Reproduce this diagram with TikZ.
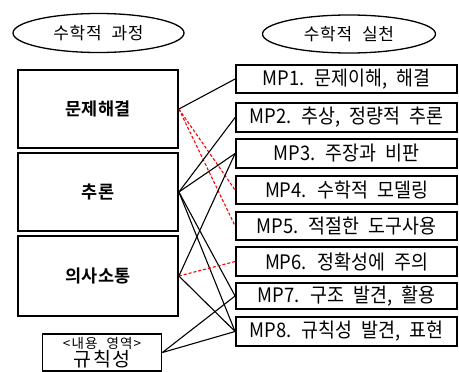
\documentclass[tikz,border=0pt]{standalone}
\usepackage{fontspec}
\setmainfont{Noto Sans CJK KR}
\newfontfamily\kr{Noto Sans CJK KR}[WordSpace=2.2]
\newfontfamily\krn{Noto Sans CJK KR}[WordSpace=2.2, FakeStretch=0.92]
\newfontfamily\krb{Noto Sans CJK KR Bold}
\usetikzlibrary{shapes.geometric}
\begin{document}
\begin{tikzpicture}[x=1pt,y=-1pt,
  lbox/.style={draw, line width=1.8pt, inner sep=0pt, font=\krb\fontsize{17.5}{19}\selectfont\addfontfeature{LetterSpace=3}},
  rbox/.style={draw, line width=1.8pt, inner sep=0pt, minimum width=221pt, font=\krn\fontsize{20}{20}\selectfont},
  oval/.style={draw, ellipse, line width=1.3pt, inner sep=0pt, font=\kr\fontsize{17}{18}\selectfont\addfontfeature{LetterSpace=4}},
  conn/.style={line width=1.1pt},
  rconn/.style={line width=1.1pt, red, dash pattern=on 3pt off 2pt}]
\useasboundingbox (0,0) rectangle (459,372);
% ellipses
\node[oval, minimum width=171pt, minimum height=39pt] (e1) at (98.5,33) {수학적 과정};
\node[oval, minimum width=173pt, minimum height=38pt] (e2) at (349,34) {수학적 실천};
% left boxes
\node[lbox, minimum width=160pt, minimum height=78pt] (ps) at (98,109) {문제해결};
\node[lbox, minimum width=160pt, minimum height=78pt] (re) at (98,192) {추론};
\node[lbox, minimum width=160pt, minimum height=80pt] (co) at (98,276) {의사소통};
\node[draw, line width=1.8pt, inner sep=0pt, minimum width=119pt, minimum height=37pt, align=center] (pa) at (102,352.5)
  {\kr\fontsize{13.5}{13}\selectfont\addfontfeature{LetterSpace=8}<내용 영역>\\\kr\fontsize{19.5}{17}\selectfont\addfontfeature{LetterSpace=10}규칙성};
% right boxes
\node[rbox, minimum height=28pt] (m1) at (346.5,79) {MP1. 문제이해, 해결};
\node[rbox, minimum height=29pt] (m2) at (346.5,117.5) {MP2. 추상, 정량적 추론};
\node[rbox, minimum height=29pt] (m3) at (346.5,153.5) {MP3. 주장과 비판};
\node[rbox, minimum height=28pt] (m4) at (346.5,190) {MP4. 수학적 모델링};
\node[rbox, minimum height=28pt] (m5) at (346.5,226) {MP5. 적절한 도구사용};
\node[rbox, minimum height=29pt] (m6) at (346.5,261.5) {MP6. 정확성에 주의};
\node[rbox, minimum height=26pt] (m7) at (346.5,296) {MP7. 구조 발견, 활용};
\node[rbox, minimum height=29pt] (m8) at (346.5,331.5) {MP8. 규칙성 발견, 표현};
% connectors
\draw[conn] (ps.east) -- (m1.west);
\draw[rconn] (ps.east) -- (m4.west);
\draw[rconn] (ps.east) -- (m5.west);
\draw[conn] (re.east) -- (m2.west);
\draw[conn] (re.east) -- (m3.west);
\draw[conn] (re.east) -- (m7.west);
\draw[conn] (re.east) -- (m8.west);
\draw[conn] (co.east) -- (m3.west);
\draw[rconn] (co.east) -- (m6.west);
\draw[conn] (co.east) -- (m8.west);
\draw[conn] (pa.east) -- (m7.west);
\draw[conn] (pa.east) -- (m8.west);
\end{tikzpicture}
\end{document}
